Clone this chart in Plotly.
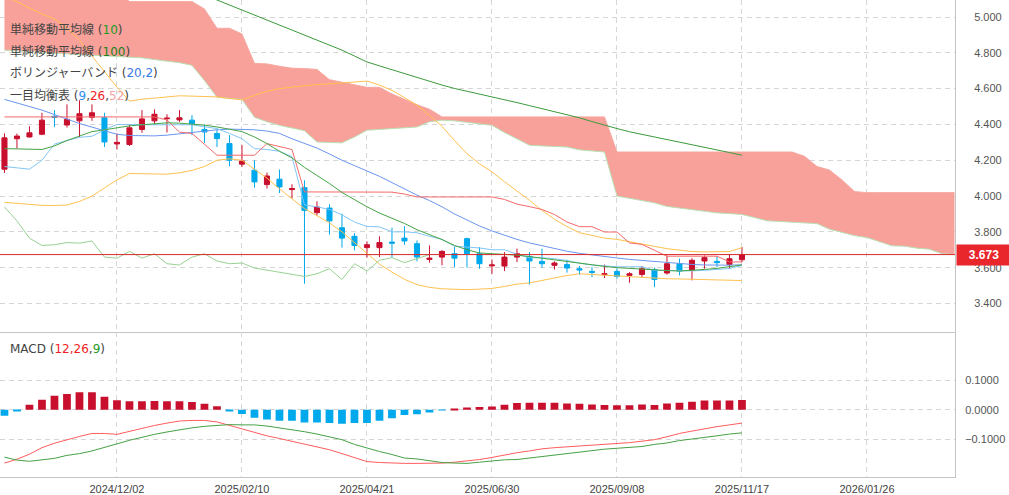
import plotly.graph_objects as go
import pandas as pd

# weekly candles 2024/09/30 .. 2025/11/17
dates = pd.date_range("2024-09-30", periods=60, freq="7D")
# ichimoku cloud runs 17 weeks past the last candle
cloud_dates = pd.date_range("2024-09-30", periods=77, freq="7D")

open_ = [4.150, 4.320, 4.330, 4.345, 4.445, 4.397, 4.420, 4.440, 4.437, 4.291,
         4.288, 4.372, 4.420, 4.432, 4.425, 4.424, 4.372, 4.349, 4.293, 4.178,
         4.144, 4.064, 4.094, 4.036, 4.047, 3.907, 3.933, 3.823, 3.775, 3.712,
         3.712, 3.743, 3.765, 3.734, 3.646, 3.659, 3.678, 3.762, 3.678, 3.610,
         3.609, 3.659, 3.663, 3.635, 3.613, 3.617, 3.594, 3.579, 3.561, 3.579,
         3.557, 3.562, 3.590, 3.570, 3.622, 3.585, 3.637, 3.635, 3.618, 3.644]
high = [4.350, 4.349, 4.390, 4.465, 4.480, 4.512, 4.535, 4.512, 4.465, 4.349,
        4.396, 4.480, 4.484, 4.457, 4.480, 4.452, 4.400, 4.372, 4.340, 4.284,
        4.200, 4.131, 4.148, 4.066, 4.088, 3.971, 3.954, 3.902, 3.793, 3.747,
        3.775, 3.823, 3.832, 3.752, 3.724, 3.697, 3.715, 3.768, 3.715, 3.646,
        3.687, 3.706, 3.687, 3.706, 3.635, 3.644, 3.609, 3.603, 3.617, 3.597,
        3.575, 3.609, 3.600, 3.668, 3.650, 3.653, 3.668, 3.663, 3.672, 3.715]
low = [4.129, 4.265, 4.327, 4.340, 4.386, 4.383, 4.330, 4.420, 4.274, 4.260,
       4.280, 4.353, 4.401, 4.355, 4.414, 4.340, 4.297, 4.274, 4.166, 4.163,
       4.047, 4.042, 4.017, 3.986, 3.510, 3.892, 3.784, 3.712, 3.697, 3.656,
       3.659, 3.656, 3.728, 3.635, 3.628, 3.613, 3.603, 3.600, 3.594, 3.566,
       3.581, 3.631, 3.505, 3.600, 3.590, 3.572, 3.561, 3.547, 3.542, 3.538,
       3.516, 3.544, 3.491, 3.561, 3.557, 3.529, 3.594, 3.603, 3.594, 3.631]
close = [4.325, 4.335, 4.353, 4.424, 4.440, 4.428, 4.460, 4.465, 4.302, 4.300,
         4.381, 4.431, 4.457, 4.435, 4.437, 4.405, 4.358, 4.321, 4.200, 4.196,
         4.079, 4.112, 4.051, 4.042, 3.920, 3.939, 3.861, 3.765, 3.724, 3.728,
         3.740, 3.737, 3.749, 3.659, 3.653, 3.691, 3.653, 3.678, 3.622, 3.615,
         3.659, 3.678, 3.637, 3.622, 3.626, 3.598, 3.587, 3.574, 3.566, 3.551,
         3.566, 3.594, 3.534, 3.622, 3.581, 3.641, 3.656, 3.628, 3.650, 3.673]
last_price = 3.673

sma10 = [4.265, 4.262, 4.260, 4.260, 4.280, 4.310, 4.335, 4.360, 4.370, 4.383,
         4.392, 4.398, 4.405, 4.409, 4.407, 4.403, 4.396, 4.386, 4.375, 4.360,
         4.330, 4.293, 4.250, 4.213, 4.160, 4.115, 4.070, 4.020, 3.978, 3.940,
         3.905, 3.875, 3.847, 3.812, 3.785, 3.757, 3.724, 3.700, 3.682, 3.679,
         3.676, 3.670, 3.662, 3.653, 3.640, 3.632, 3.622, 3.615, 3.607, 3.600,
         3.595, 3.591, 3.587, 3.584, 3.581, 3.584, 3.590, 3.596, 3.605, 3.615]
sma100 = [None] * 15 + [
    5.151, 5.123, 5.095, 5.067, 5.039,
    5.011, 4.983, 4.955, 4.927, 4.899, 4.871, 4.843, 4.815, 4.782, 4.749,
    4.727, 4.705, 4.684, 4.663, 4.641, 4.620, 4.601, 4.586, 4.571, 4.555,
    4.539, 4.522, 4.505, 4.488, 4.472, 4.455, 4.437, 4.416, 4.395, 4.377,
    4.359, 4.345, 4.330, 4.316, 4.301, 4.287, 4.272, 4.257, 4.243, 4.228]

bb_up = [5.120, 5.084, 5.050, 5.017, 4.989, 4.938, 4.871, 4.782, 4.692, 4.608,
         4.530, 4.541, 4.547, 4.555, 4.560, 4.558, 4.556, 4.554, 4.545, 4.537,
         4.562, 4.585, 4.600, 4.610, 4.616, 4.622, 4.628, 4.632, 4.637, 4.642,
         4.620, 4.590, 4.550, 4.508, 4.450, 4.390, 4.310, 4.237, 4.180, 4.135,
         4.080, 4.030, 3.976, 3.920, 3.870, 3.830, 3.795, 3.780, 3.765, 3.758,
         3.745, 3.735, 3.720, 3.706, 3.698, 3.690, 3.688, 3.687, 3.690, 3.712]
bb_mid = [4.540, 4.520, 4.500, 4.480, 4.455, 4.430, 4.405, 4.385, 4.365, 4.345,
          4.338, 4.336, 4.336, 4.340, 4.348, 4.355, 4.362, 4.370, 4.374, 4.374,
          4.370, 4.363, 4.350, 4.320, 4.295, 4.268, 4.235, 4.200, 4.170, 4.140,
          4.110, 4.075, 4.040, 4.005, 3.975, 3.940, 3.900, 3.865, 3.833, 3.805,
          3.780, 3.758, 3.738, 3.722, 3.705, 3.692, 3.680, 3.670, 3.662, 3.654,
          3.646, 3.640, 3.632, 3.626, 3.621, 3.618, 3.615, 3.613, 3.614, 3.616]
bb_low = [3.965, 3.958, 3.952, 3.948, 3.947, 3.950, 3.970, 4.000, 4.045, 4.090,
          4.126, 4.125, 4.123, 4.122, 4.130, 4.143, 4.165, 4.200, 4.208, 4.200,
          4.150, 4.100, 4.040, 3.985, 3.930, 3.890, 3.850, 3.800, 3.740, 3.680,
          3.620, 3.575, 3.535, 3.505, 3.490, 3.482, 3.478, 3.477, 3.480, 3.484,
          3.495, 3.508, 3.515, 3.530, 3.545, 3.556, 3.566, 3.562, 3.558, 3.552,
          3.547, 3.542, 3.540, 3.538, 3.537, 3.535, 3.533, 3.532, 3.530, 3.528]

tenkan = [4.165, 4.158, 4.150, 4.200, 4.290, 4.310, 4.328, 4.334, 4.370, 4.400,
          4.398, 4.398, 4.398, 4.398, 4.398, 4.398, 4.387, 4.377, 4.350, 4.320,
          4.265, 4.260, 4.250, 4.220, 3.950, 3.940, 3.925, 3.895, 3.855, 3.830,
          3.828, 3.800, 3.800, 3.795, 3.775, 3.758, 3.720, 3.716, 3.710, 3.700,
          3.700, 3.675, 3.655, 3.655, 3.650, 3.640, 3.625, 3.615, 3.610, 3.605,
          3.605, 3.605, 3.585, 3.583, 3.582, 3.582, 3.585, 3.590, 3.595, 3.612]
kijun = [4.442, 4.442, 4.442, 4.442, 4.442, 4.442, 4.442, 4.442, 4.442, 4.442,
         4.442, 4.442, 4.442, 4.425, 4.357, 4.350, 4.290, 4.228, 4.228, 4.228,
         4.228, 4.293, 4.276, 4.260, 4.023, 4.023, 4.023, 4.023, 4.023, 4.023,
         4.023, 4.022, 4.011, 3.995, 3.995, 3.995, 3.995, 3.995, 3.995, 3.995,
         3.981, 3.955, 3.941, 3.925, 3.897, 3.855, 3.829, 3.829, 3.799, 3.799,
         3.738, 3.730, 3.697, 3.664, 3.664, 3.664, 3.664, 3.664, 3.632, 3.632]
cloud_upper = [5.200, 5.200, 5.200, 5.200, 5.200, 5.200, 5.200, 5.200, 5.200, 5.150,
               5.086, 5.086, 5.086, 5.086, 5.086, 5.086, 5.045, 4.937, 4.937, 4.905,
               4.741, 4.738, 4.725, 4.714, 4.712, 4.707, 4.650, 4.635, 4.620, 4.607,
               4.607, 4.570, 4.540, 4.510, 4.485, 4.442, 4.442, 4.442, 4.442, 4.442,
               4.442, 4.442, 4.442, 4.442, 4.442, 4.442, 4.442, 4.442, 4.442, 4.246,
               4.246, 4.246, 4.246, 4.246, 4.246, 4.246, 4.246, 4.246, 4.246, 4.246,
               4.246, 4.246, 4.246, 4.246, 4.222, 4.165, 4.145, 4.090, 4.025, 4.019,
               4.019, 4.019, 4.019, 4.019, 4.019, 4.019, 4.019]
cloud_lower = [4.815, 4.812, 4.808, 4.803, 4.798, 4.794, 4.790, 4.788, 4.785, 4.780,
               4.775, 4.772, 4.762, 4.755, 4.745, 4.730, 4.645, 4.552, 4.545, 4.540,
               4.440, 4.415, 4.395, 4.380, 4.365, 4.302, 4.300, 4.297, 4.330, 4.368,
               4.372, 4.378, 4.382, 4.386, 4.415, 4.424, 4.420, 4.413, 4.406, 4.395,
               4.355, 4.320, 4.284, 4.280, 4.278, 4.274, 4.258, 4.250, 4.246, 4.000,
               3.988, 3.977, 3.962, 3.942, 3.932, 3.923, 3.913, 3.906, 3.902, 3.897,
               3.880, 3.862, 3.858, 3.855, 3.851, 3.846, 3.815, 3.795, 3.779, 3.768,
               3.745, 3.722, 3.720, 3.709, 3.703, 3.678, 3.674]
chikou_shift = 25

macd_hist = [-0.020, -0.003, 0.017, 0.034, 0.047, 0.053, 0.059, 0.059, 0.044, 0.032,
             0.029, 0.029, 0.030, 0.029, 0.029, 0.026, 0.020, 0.012, -0.003, -0.014,
             -0.027, -0.033, -0.037, -0.037, -0.043, -0.043, -0.045, -0.047, -0.045, -0.045,
             -0.037, -0.029, -0.018, -0.015, -0.009, -0.002, 0.003, 0.008, 0.009, 0.011,
             0.017, 0.023, 0.024, 0.024, 0.024, 0.021, 0.020, 0.018, 0.016, 0.015,
             0.015, 0.018, 0.016, 0.021, 0.024, 0.027, 0.031, 0.031, 0.031, 0.033]
macd_line = [-0.180, -0.167, -0.150, -0.128, -0.113, -0.101, -0.090, -0.080, -0.080, -0.083,
             -0.073, -0.062, -0.053, -0.045, -0.038, -0.036, -0.036, -0.041, -0.053, -0.065,
             -0.077, -0.088, -0.097, -0.106, -0.115, -0.124, -0.135, -0.148, -0.162, -0.175,
             -0.178, -0.180, -0.181, -0.181, -0.181, -0.180, -0.177, -0.173, -0.168, -0.161,
             -0.152, -0.145, -0.139, -0.132, -0.128, -0.125, -0.122, -0.119, -0.117, -0.115,
             -0.111, -0.106, -0.101, -0.091, -0.080, -0.072, -0.064, -0.057, -0.051, -0.045]
macd_signal = [-0.160, -0.170, -0.174, -0.170, -0.164, -0.154, -0.148, -0.139, -0.126, -0.115,
               -0.103, -0.092, -0.083, -0.075, -0.067, -0.061, -0.056, -0.053, -0.050, -0.051,
               -0.051, -0.055, -0.061, -0.067, -0.074, -0.082, -0.091, -0.101, -0.117, -0.130,
               -0.141, -0.151, -0.163, -0.166, -0.172, -0.178, -0.180, -0.181, -0.177, -0.172,
               -0.169, -0.168, -0.163, -0.156, -0.152, -0.146, -0.142, -0.137, -0.133, -0.130,
               -0.126, -0.124, -0.117, -0.112, -0.104, -0.099, -0.095, -0.088, -0.082, -0.078]

tick_dates = ["2024-12-02", "2025-02-10", "2025-04-21", "2025-06-30",
              "2025-09-08", "2025-11-17", "2026-01-26"]
tick_text = [d.replace("-", "/") for d in tick_dates]
price_ticks = [3.4, 3.6, 3.8, 4.0, 4.2, 4.4, 4.6, 4.8, 5.0]
macd_ticks = [-0.1, 0.0, 0.1]

UP = "#c8102e"
DOWN = "#00a8ec"
GRID = "#d6d6d6"
BORDER = "#c4c4c4"

fig = go.Figure()

# cloud
fig.add_trace(go.Scatter(x=cloud_dates, y=cloud_lower, mode="lines",
                         line=dict(color="#b9dfb2", width=1), hoverinfo="skip"))
fig.add_trace(go.Scatter(x=cloud_dates, y=cloud_upper, mode="lines", fill="tonexty",
                         fillcolor="#f8a19a", line=dict(color="#f6a8a0", width=1),
                         hoverinfo="skip"))

def line(y, color, x=dates, w=1):
    fig.add_trace(go.Scatter(x=x, y=y, mode="lines",
                             line=dict(color=color, width=w), hoverinfo="skip"))

line(sma100, "#3c9a3c")
line(bb_up, "#ffc14f")
line(bb_low, "#ffc14f")
line(bb_mid, "#6b96ef")
line(close[chikou_shift:], "#98d293", x=dates[:len(close) - chikou_shift])
line(tenkan, "#82c6f5")
line(kijun, "#f46a6a")
line(sma10, "#45a445")

fig.add_trace(go.Candlestick(
    x=dates, open=open_, high=high, low=low, close=close,
    increasing=dict(line=dict(color=UP, width=1), fillcolor=UP),
    decreasing=dict(line=dict(color=DOWN, width=1), fillcolor=DOWN),
    whiskerwidth=0, hoverinfo="skip"))

# MACD panel
fig.add_trace(go.Bar(x=dates, y=macd_hist, xaxis="x2", yaxis="y2",
                     marker=dict(color=[UP if v >= 0 else DOWN for v in macd_hist],
                                 line=dict(width=0)), hoverinfo="skip"))
fig.add_trace(go.Scatter(x=dates, y=macd_line, xaxis="x2", yaxis="y2", mode="lines",
                         line=dict(color="#ff5c5c", width=1), hoverinfo="skip"))
fig.add_trace(go.Scatter(x=dates, y=macd_signal, xaxis="x2", yaxis="y2", mode="lines",
                         line=dict(color="#46a046", width=1), hoverinfo="skip"))

fig.add_shape(type="line", xref="paper", x0=0, x1=1, yref="y",
              y0=last_price, y1=last_price, line=dict(color="#d92a2a", width=1),
              layer="above")

ann_font = dict(family="DejaVu Sans, Noto Sans CJK JP", size=12, color="#444")
labels = [
    (30, '単純移動平均線 (<span style="color:#249a24">10</span>)'),
    (51.5, '単純移動平均線 (<span style="color:#1c801c">100</span>)'),
    (73.5, 'ボリンジャーバンド (<span style="color:#3a78e6">20,2</span>)'),
    (96, '一目均衡表 (<span style="color:#2f8ef0">9</span>,'
         '<span style="color:#f01e1e">26</span>,'
         '<span style="color:#f3a3a3">52</span>)'),
    (349, 'MACD (<span style="color:#f01e1e">12,26</span>,'
          '<span style="color:#249a24">9</span>)'),
]
H = 477
annotations = [dict(x=8 / 955, y=(H - py) / H, xref="paper", yref="paper",
                    xanchor="left", yanchor="middle", text=t, showarrow=False,
                    font=ann_font) for py, t in labels]
annotations.append(dict(x=1, y=last_price, xref="paper", yref="y", xanchor="left",
                        yanchor="middle", xshift=1, text="<b>3.673</b>",
                        showarrow=False, bgcolor="#e8262c", width=52, height=18,
                        align="center",
                        font=dict(family="Liberation Sans", size=12, color="white")))

xrange = ["2024-09-27 12:00", "2026-03-16 07:00"]
common_x = dict(range=xrange, tickvals=tick_dates, showgrid=True, gridcolor=GRID,
                griddash="5px,4px", zeroline=False, showline=True, linecolor=BORDER,
                ticks="")

fig.update_layout(
    width=1009, height=495, autosize=False,
    margin=dict(l=0, r=54, t=0, b=18, pad=0),
    paper_bgcolor="white", plot_bgcolor="white",
    showlegend=False, boxgap=0.42, bargap=0.38,
    font=dict(family="Liberation Sans, Arial", size=11, color="#555"),
    xaxis=dict(domain=[0, 1], anchor="y", showticklabels=False,
               rangeslider=dict(visible=False), **common_x),
    xaxis2=dict(domain=[0, 1], anchor="y2", matches="x", ticktext=tick_text,
                showticklabels=True, tickfont=dict(color="#444", size=11),
                ticklabelstandoff=2, **common_x),
    yaxis=dict(domain=[0.303, 1], anchor="x", side="right", range=[3.238, 5.095],
               tickvals=price_ticks, tickformat=".3f", showgrid=True, gridcolor=GRID,
               griddash="5px,4px", zeroline=False, showline=True, linecolor=BORDER,
               ticks="", ticklabelstandoff=16),
    yaxis2=dict(domain=[0, 0.303], anchor="x2", side="right", range=[-0.227, 0.261],
                tickvals=macd_ticks, tickformat=".4f", showgrid=True, gridcolor=GRID,
                griddash="5px,4px", zeroline=False, showline=True, linecolor=BORDER,
                ticks="", ticklabelstandoff=7),
    annotations=annotations,
)

# the page body has a default 8px margin; drop it so the chart sits at 0,0
fig.write_html("out.html", config={"displayModeBar": False},
               post_script="document.body.style.margin='0';")
